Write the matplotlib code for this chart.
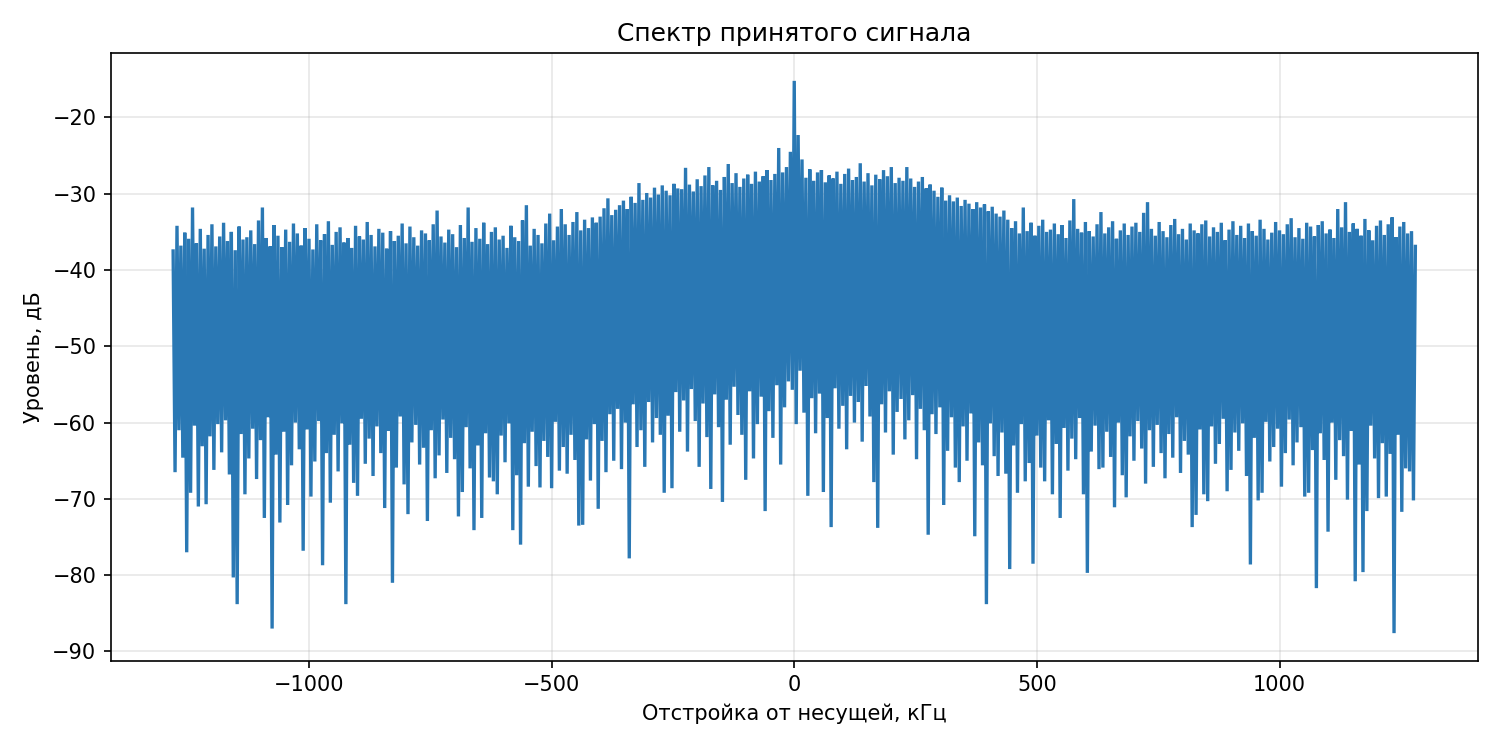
import numpy as np
import matplotlib
matplotlib.use("Agg")
import matplotlib.pyplot as plt

# keep every swing of the dense trace
plt.rcParams['path.simplify'] = False

# frequency grid of the trace, kHz
f_start = -1280.0
f_stop = 1280.0
n_points = 641

# local maxima of the spectrum, dB
peaks_edge_left = [
    -37.5, -34.2, -36.8, -35.1, -35.9, -31.8, -36.5, -34.6, -37.2, -35.4,
    -34.0, -36.9, -35.6, -33.8, -36.2, -35.0, -37.4, -34.3, -36.0, -35.7,
    -34.8, -36.6, -33.5, -31.8, -35.8, -36.9, -34.1, -35.5, -37.0, -34.7,
    -36.3, -33.9, -35.2, -36.8, -34.5, -35.9, -37.3, -34.0, -36.1, -35.3,
    -33.6, -36.7, -35.0, -34.4, -36.4, -35.8, -37.1, -34.2, -35.6, -36.0,
    -33.7, -35.4, -36.9, -34.6, -35.1, -37.2, -34.9, -36.2, -35.5, -33.9,
    -36.5, -34.3, -35.7, -36.8, -34.8, -35.2, -36.1, -34.0, -32.2, -35.6,
    -36.4, -34.7, -35.3, -37.0, -34.1, -35.8, -31.8, -36.3, -34.5, -35.9,
    -33.8, -36.6, -35.0, -34.4, -36.0, -35.5, -37.1, -34.2, -35.7, -36.2,
    -33.5, -31.5, -36.8, -34.6, -35.4, -36.5, -33.9, -32.6, -36.1, -34.3,
    -32.0, -34.0, -35.4, -33.7, -32.4, -34.8, -33.4, -34.5, -33.1, -33.8,
]
peaks_rise = [
    -33.0, -31.9, -30.6, -32.8, -32.1, -31.5, -30.9, -32.0, -30.4, -31.2,
    -28.6, -30.8, -29.9, -30.5, -29.2, -30.1, -28.9, -29.6, -30.2, -28.7, -29.3,
]
peaks_center_left = [
    -29.4, -26.6, -28.8, -29.7, -28.1, -29.0, -27.6, -26.5, -28.9, -28.3,
    -29.5, -27.8, -26.1, -28.6, -27.3, -29.1, -28.0, -27.5, -28.7, -27.1,
    -28.4, -27.7, -26.9, -28.2, -27.4, -24.0, -27.2,
]
peaks_carrier = [-26.5, -24.5, -15.2, -22.3, -25.5]
peaks_center_right = [
    -27.9, -26.8, -28.3, -27.2, -26.9, -28.5, -27.6, -28.0, -27.1, -28.7,
    -27.4, -26.7, -28.2, -27.8, -26.0, -28.4, -27.3, -28.9, -27.5, -28.1,
    -26.9, -27.7, -26.5, -28.6, -27.9, -28.3, -26.5, -28.0, -29.1, -28.4,
    -27.8, -29.3, -28.8,
]
peaks_fall = [
    -29.6, -30.4, -29.2, -30.9, -30.2, -31.0, -30.5, -31.6, -30.8, -31.3,
    -32.0, -31.1, -31.8, -31.4, -32.3, -31.7, -32.6, -33.0, -32.2, -33.4,
]
peaks_edge_right = [
    -34.5, -33.6, -35.2, -31.8, -34.9, -33.8, -35.5, -34.2, -33.4, -35.0,
    -34.7, -33.9, -35.3, -34.1, -35.8, -33.5, -30.7, -34.6, -35.1, -33.7,
    -34.9, -35.6, -34.0, -32.4, -35.2, -34.4, -33.6, -35.9, -34.8, -33.9,
    -35.4, -34.3, -33.8, -35.0, -32.5, -31.1, -34.6, -35.5, -33.7, -34.9,
    -35.7, -34.1, -33.3, -35.3, -34.6, -36.0, -33.9, -34.8, -35.2, -34.0,
    -33.5, -35.6, -34.4, -35.0, -33.8, -36.1, -34.7, -33.6, -35.4, -34.2,
    -35.8, -33.9, -34.9, -35.5, -33.4, -34.6, -36.0, -35.1, -33.7, -34.8,
    -35.3, -34.0, -33.2, -35.7, -34.5, -35.9, -33.8, -34.3, -35.6, -34.1,
    -33.6, -35.2, -34.7, -35.8, -32.0, -34.4, -31.1, -35.0, -33.9, -34.6,
    -35.5, -33.3, -34.8, -36.1, -34.2, -33.5, -35.4, -34.0, -33.1, -35.7,
    -34.3, -33.7, -35.2, -34.9, -36.9,
]

# local minima of the spectrum, dB
dips_edge_left = [
    -66.5, -61.0, -64.6, -77.0, -69.2, -60.4, -71.0, -63.1, -70.7, -61.8,
    -66.2, -60.2, -63.9, -59.7, -66.8, -80.3, -83.8, -61.5, -69.4, -64.7,
    -60.8, -67.4, -62.3, -72.5, -59.3, -87.0, -64.2, -73.1, -61.2, -70.8,
    -65.6, -60.0, -63.5, -76.8, -60.9, -69.7, -65.1, -59.8, -78.7, -64.0,
    -70.5, -61.6, -66.4, -60.1, -83.8, -62.9, -67.9, -69.6, -59.5, -65.4,
    -62.1, -67.0, -60.5, -64.0, -71.2, -61.1, -81.0, -65.9, -59.2, -68.1,
    -72.0, -62.6, -60.3, -65.5, -63.3, -72.9, -61.0, -67.3, -64.3, -59.6,
    -66.6, -62.0, -64.8, -72.3, -69.1, -60.6, -66.0, -74.1, -63.0, -72.5,
    -61.4, -67.2, -67.7, -69.4, -61.7, -65.2, -60.1, -74.1, -66.9, -76.0,
    -62.7, -68.4, -61.2, -65.7, -68.5, -62.4, -64.5, -68.6, -59.9, -66.3,
    -63.2, -66.7, -61.6, -64.9, -73.5, -73.4, -62.2, -67.6, -60.2, -71.3,
]
dips_rise = [
    -62.4, -66.5, -58.9, -65.0, -58.2, -66.1, -60.0, -77.8, -57.6, -63.2,
    -61.0, -65.8, -57.3, -62.6, -59.4, -61.6,
]
dips_center = [
    -69.2, -59.1, -68.6, -56.0, -61.2, -57.1, -63.8, -55.6, -59.8, -65.8,
    -57.5, -61.9, -68.7, -56.3, -60.6, -70.4, -57.0, -62.9, -55.3, -59.0,
    -61.6, -67.5, -55.9, -64.7, -60.2, -56.6, -71.6, -58.5, -62.0, -55.1,
    -65.5, -58.0, -54.6, -55.7, -60.2, -53.2, -58.7, -69.6, -56.8, -61.4,
    -56.2, -69.1, -59.4, -73.7, -55.5, -60.8, -57.8, -63.5, -56.5, -60.0,
    -57.3, -62.5, -55.2, -59.2, -67.8, -73.8, -57.6, -61.3, -55.9, -64.2,
    -58.6, -56.9, -62.2, -59.7, -56.4, -64.8, -58.2, -61.0, -74.7, -58.9,
]
dips_fall = [
    -61.5, -58.0, -70.8, -63.7, -59.3, -65.9, -67.8, -60.5, -65.0, -58.8,
    -74.9, -62.6, -65.6, -83.8, -60.1, -64.4, -67.0, -61.3, -66.7, -79.2,
]
dips_edge_right = [
    -63.0, -69.2, -60.2, -67.7, -65.3, -78.5, -61.7, -65.9, -67.7, -59.7,
    -69.4, -62.8, -72.5, -60.7, -66.3, -62.1, -64.8, -59.4, -69.4, -79.7,
    -63.8, -60.4, -66.1, -65.9, -61.2, -64.5, -71.1, -60.0, -66.9, -69.8,
    -61.8, -65.0, -59.8, -63.4, -68.0, -61.0, -65.8, -60.3, -64.0, -67.3,
    -61.5, -64.6, -59.3, -66.6, -62.4, -64.2, -73.7, -72.1, -60.9, -69.4,
    -70.3, -60.5, -65.4, -62.8, -59.5, -69.0, -66.2, -61.3, -63.7, -60.1,
    -67.0, -78.6, -62.0, -70.2, -69.2, -59.9, -65.1, -63.2, -60.8, -68.4,
    -64.0, -59.6, -65.6, -62.6, -60.6, -69.7, -69.2, -63.6, -81.7, -61.4,
    -64.9, -74.3, -60.0, -67.5, -62.3, -64.4, -70.1, -61.1, -80.8, -65.5,
    -79.6, -71.6, -60.4, -64.7, -69.9, -62.7, -69.7, -64.1, -87.6, -61.6,
    -71.7, -66.0, -66.4, -70.2,
]

peaks = (peaks_edge_left + peaks_rise + peaks_center_left + peaks_carrier
         + peaks_center_right + peaks_fall + peaks_edge_right)
dips = dips_edge_left + dips_rise + dips_center + dips_fall + dips_edge_right

# trace goes max, min, max, min ...
level_db = np.empty(n_points)
level_db[0::2] = peaks
level_db[1::2] = dips
freq_khz = np.linspace(f_start, f_stop, n_points)

fig, ax = plt.subplots(figsize=(10, 5), dpi=150)
ax.plot(freq_khz, level_db, color='#2a78b4', linewidth=1.6,
        solid_joinstyle='miter')
ax.set_title('Спектр принятого сигнала')
ax.set_xlabel('Отстройка от несущей, кГц')
ax.set_ylabel('Уровень, дБ')
ax.grid(True, alpha=0.3)
fig.subplots_adjust(left=0.074, right=0.985, top=0.929, bottom=0.119)

fig.savefig('out.png')
